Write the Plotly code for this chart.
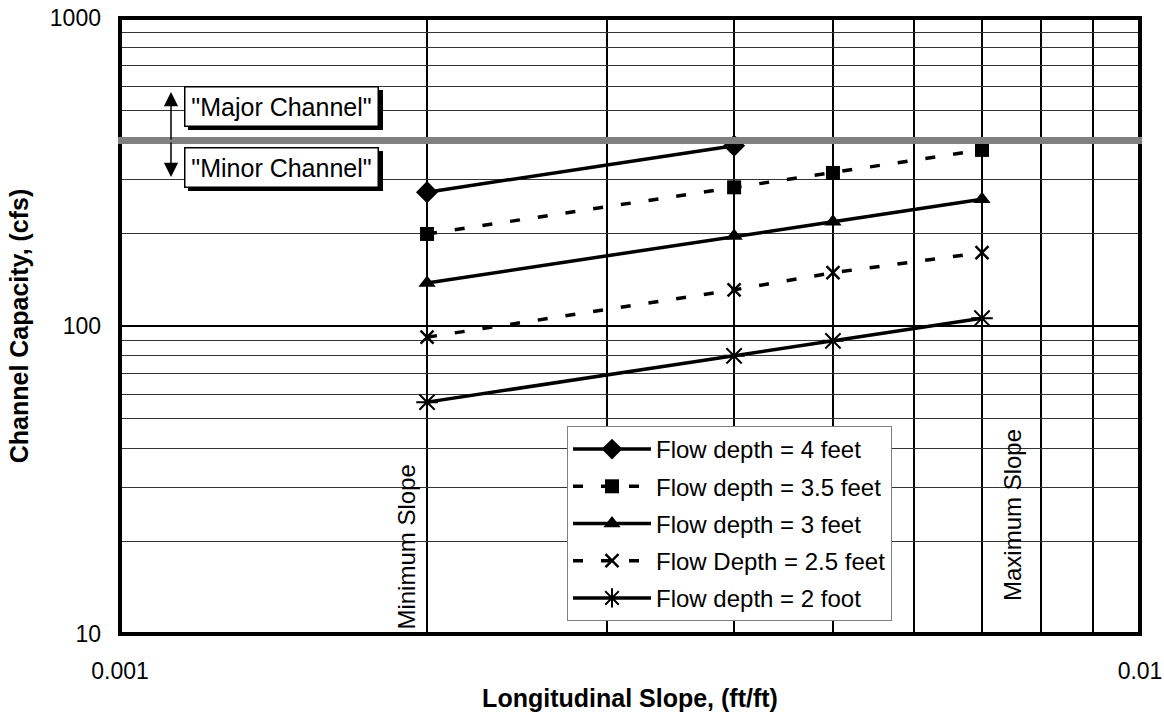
import math
import plotly.graph_objects as go

# ---- data ----
slope = [0.002, 0.004, 0.005, 0.007]
slope_4ft = [0.002, 0.004]
q_4ft = [272, 385]
q_35ft = [199, 282, 314, 373]
q_3ft = [138, 196, 218, 258]
q_25ft = [92, 131, 149, 173]
q_2ft = [56.6, 80, 89.5, 106]
channel_split = 400
min_slope = 0.002
max_slope = 0.007

x_ticks = [0.001, 0.01]
x_ticktext = ["0.001", "0.01"]
x_minor = [0.002, 0.003, 0.004, 0.005, 0.006, 0.007, 0.008, 0.009]
y_ticks = [10, 100, 1000]
y_ticktext = ["10", "100", "1000"]
y_minor = [20, 30, 40, 50, 60, 70, 80, 90, 200, 300, 400, 500, 600, 700, 800, 900]

FONT = "Arial, Liberation Sans, sans-serif"

L, R, T, B = 120, 24, 18, 94
W, H = 1164, 728
PW, PH = W - L - R, H - T - B


def px(xp):
    return (xp - L) / PW


def py(yp):
    return (H - B - yp) / PH


fig = go.Figure()

series = [
    ("Flow depth = 4 feet", slope_4ft, q_4ft, "solid", dict(symbol="diamond", size=17)),
    ("Flow depth = 3.5 feet", slope, q_35ft, "10px,18px", dict(symbol="square", size=14)),
    ("Flow depth = 3 feet", slope, q_3ft, "solid", dict(symbol="triangle-up", size=15)),
    ("Flow Depth = 2.5 feet", slope, q_25ft, "10px,18px",
     dict(symbol="x-thin-open", size=13, line=dict(width=2.5, color="black"))),
    ("Flow depth = 2 foot", slope, q_2ft, "solid",
     dict(symbol="asterisk-open", size=18, line=dict(width=2, color="black"))),
]
for i, (name, xs, ys, dash, mk) in enumerate(series):
    mk = dict(mk)
    mk.setdefault("color", "black")
    fig.add_trace(go.Scatter(
        x=xs, y=ys, name=name, mode="lines+markers",
        line=dict(color="black", width=3.5, dash=dash),
        marker=mk, legendgroup=f"g{i}",
    ))

shapes = [
    dict(type="rect", xref="paper", yref="paper", x0=0, x1=1, y0=0, y1=1,
         line=dict(color="black", width=4), layer="above"),
    dict(type="line", xref="paper", yref="y", x0=-0.002, x1=1.002,
         y0=channel_split, y1=channel_split,
         line=dict(color="#808080", width=7), layer="above"),
]

annotations = []
# shadowed boxes for channel labels
BOX_W, BOX_H = 195, 40
for label, yc in [('"Major Channel"', 106), ('"Minor Channel"', 167)]:
    x0, x1 = 281.5 - BOX_W / 2 + 4, 281.5 + BOX_W / 2 + 4
    y0, y1 = yc - BOX_H / 2 + 4, yc + BOX_H / 2 + 4
    shapes.append(dict(type="rect", xref="paper", yref="paper",
                       x0=px(x0), x1=px(x1), y0=py(y1), y1=py(y0),
                       fillcolor="black", line=dict(width=0), layer="above"))
    annotations.append(dict(
        x=px(281.5), y=py(yc), xref="paper", yref="paper", text=label,
        xanchor="center", yanchor="middle",
        showarrow=False, font=dict(family=FONT, size=25, color="black"),
        bgcolor="white", bordercolor="black", borderwidth=1.5, borderpad=3,
        width=186, height=32))
# double arrow
annotations.append(dict(x=px(171), y=py(92), xref="paper", yref="paper", text="",
                        showarrow=True, ax=0, ay=49, arrowhead=2, arrowsize=1.9,
                        arrowwidth=1.5, arrowcolor="black"))
annotations.append(dict(x=px(171), y=py(177), xref="paper", yref="paper", text="",
                        showarrow=True, ax=0, ay=-36, arrowhead=2, arrowsize=1.9,
                        arrowwidth=1.5, arrowcolor="black"))
# slope labels
annotations.append(dict(x=math.log10(min_slope), y=0, xref="x", yref="paper",
                        text="Minimum Slope", textangle=-90, showarrow=False,
                        xanchor="center", yanchor="bottom", xshift=-21, yshift=2,
                        font=dict(family=FONT, size=24, color="black")))
annotations.append(dict(x=math.log10(max_slope), y=0, xref="x", yref="paper",
                        text="Maximum Slope", textangle=-90, showarrow=False,
                        xanchor="center", yanchor="bottom", xshift=30, yshift=31,
                        font=dict(family=FONT, size=24, color="black")))

fig.update_layout(
    width=W, height=H,
    margin=dict(l=L, r=R, t=T, b=B, autoexpand=False),
    paper_bgcolor="white", plot_bgcolor="white",
    font=dict(family=FONT, size=23, color="black"),
    shapes=shapes, annotations=annotations,
    legend=dict(x=px(567), y=py(426), xanchor="left", yanchor="top",
                bgcolor="white", bordercolor="#808080", borderwidth=1,
                font=dict(family=FONT, size=24, color="black"),
                tracegroupgap=3, itemwidth=78),
    showlegend=True,
)

fig.update_xaxes(
    type="log", range=[-3, -2],
    tickmode="array", tickvals=x_ticks, ticktext=x_ticktext,
    ticks="", ticklabelstandoff=21,
    showgrid=False, zeroline=False, showline=False,
    minor=dict(tickmode="array", tickvals=x_minor, showgrid=True,
               gridcolor="black", gridwidth=2, ticks=""),
    title=dict(text="Longitudinal Slope, (ft/ft)", standoff=6,
               font=dict(family=FONT, size=25, weight="bold", color="black")),
    tickfont=dict(family=FONT, size=23, color="black"),
)
fig.update_yaxes(
    type="log", range=[1, 3],
    tickmode="array", tickvals=y_ticks, ticktext=y_ticktext,
    ticks="", ticklabelstandoff=18,
    showgrid=True, gridcolor="black", gridwidth=2, zeroline=False, showline=False,
    minor=dict(tickmode="array", tickvals=y_minor, showgrid=True,
               gridcolor="#333333", gridwidth=1, ticks=""),
    title=dict(text="Channel Capacity, (cfs)", standoff=14,
               font=dict(family=FONT, size=25, weight="bold", color="black")),
    tickfont=dict(family=FONT, size=23, color="black"),
)

fig.write_html("out.html")
